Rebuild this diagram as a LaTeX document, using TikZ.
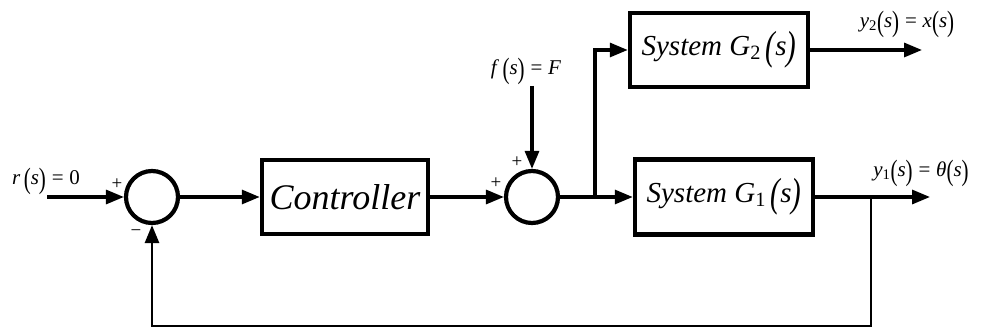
\documentclass[tikz,border=0pt]{standalone}
\usepackage{fontspec}
\usepackage{graphicx}
\setmainfont{Liberation Serif}
\usetikzlibrary{arrows.meta}
\newcommand\Lp{\raisebox{-0.16em}{\scalebox{1}[1.4]{(}}}
\newcommand\Rp{\raisebox{-0.16em}{\scalebox{1}[1.4]{)}}}
\tikzset{
  blk/.style={draw, line width=4.5pt, rectangle, inner sep=0pt},
  sumc/.style={draw, line width=4.2pt, circle, minimum size=52pt, inner sep=0pt},
  sig/.style={line width=3.2pt, -{Triangle[length=18pt,width=14pt]}},
  lbl/.style={inner sep=0pt, font=\fontsize{21}{21}\selectfont},
  sgn/.style={inner sep=0pt, font=\fontsize{19}{19}\selectfont},
}
\begin{document}
\begin{tikzpicture}[x=1pt,y=-1pt]
\useasboundingbox (0,0) rectangle (981,331);
\node[sumc] (s1) at (152,197) {};
\node[blk, minimum width=166pt, minimum height=74pt] (ctrl) at (345,197) {\fontsize{36}{36}\selectfont\itshape Controller};
\node[sumc] (s2) at (532,197) {};
\node[blk, minimum width=178pt, minimum height=75pt] (g1) at (724,197) {\fontsize{29}{29}\selectfont\itshape System\ G\textsubscript{\upshape 1}\,\Lp s\Rp};
\node[blk, minimum width=178pt, minimum height=74pt] (g2) at (719,50) {\fontsize{29}{29}\selectfont\itshape System\ G\textsubscript{\upshape 2}\,\Lp s\Rp};
\coordinate (in) at (47,197);
\coordinate (fin) at (532,86);
\coordinate (br) at (595,197);
\coordinate (o2) at (922,50);
\coordinate (o1) at (930,197);
\coordinate (fb) at (871,197);
\coordinate (fbb) at (871,326);
\draw[sig] (in) -- (s1);
\draw[sig] (s1) -- (ctrl);
\draw[sig] (ctrl) -- (s2);
\draw[sig] (fin) -- (s2);
\draw[sig] (s2) -- (g1);
\draw[sig] (br) |- (g2);
\draw[sig] (g2) -- (o2);
\draw[sig] (g1) -- (o1);
\draw[sig, line width=2.8pt] (fb) -- (fbb) -| (s1);
\node[lbl] (lr) at (46,181) {\textit{r}\,\Lp\textit{s}\Rp\;=\;0};
\node[lbl] (lf) at (526,71) {\textit{f}\,\Lp\textit{s}\Rp\;=\;\textit{F}};
\node[lbl] (ly2) at (907,24) {\textit{y}\textsubscript{2}\Lp\textit{s}\Rp\;=\;\textit{x}\Lp\textit{s}\Rp};
\node[lbl] (ly1) at (921,173) {\textit{y}\textsubscript{1}\Lp\textit{s}\Rp\;=\;\textit{θ}\Lp\textit{s}\Rp};
\node[sgn] (p1) at (117,184) {+};
\node[sgn] (m1) at (136,233) {\textminus};
\node[sgn] (p2) at (517,162) {+};
\node[sgn] (p3) at (496,183) {+};
\end{tikzpicture}
\end{document}
